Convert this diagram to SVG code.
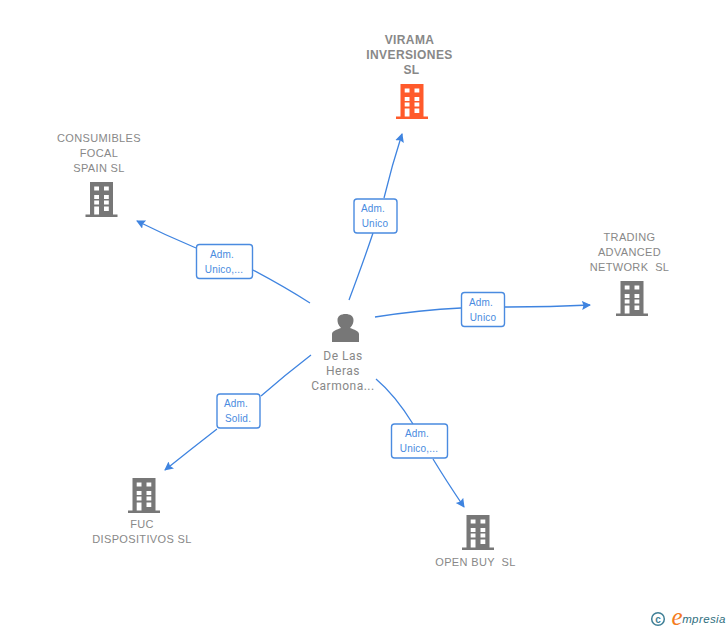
<svg xmlns="http://www.w3.org/2000/svg" width="728" height="630" viewBox="0 0 728 630">
<style>
text{font-family:"Liberation Sans",Arial,sans-serif;text-anchor:middle}
.n{font-size:11px;fill:#888;letter-spacing:.35px}
.b{font-weight:bold;font-size:12px;fill:#888;letter-spacing:.4px}
.p{font-family:Roboto,"Liberation Sans",sans-serif;font-size:12px;fill:#888;letter-spacing:.5px}
.l{font-size:10px;fill:#4a8be0;letter-spacing:.2px}
.c{fill:none;stroke:#3f84e0;stroke-width:1.3}
.box{fill:#fff;stroke:#4a8be0;stroke-width:1.4}
.g{fill:#777}.o{fill:#ff5a2b}
.w{fill:#fff}
</style>
<defs>
<marker id="a" markerUnits="userSpaceOnUse" markerWidth="12" markerHeight="12" refX="8" refY="4.500" orient="auto"><path d="M0 0L9 4.500L0 9L1.500 4.500Z" fill="#3f84e0"/></marker>
<g id="bld">
<path d="M4.500 0H27.500V32.500H32V35H0V32.500H4.500Z"/>
<path class="w" d="M8.700 4.500h4.800v4H8.700zM18.500 4.500h4.800v4h-4.800zM8.700 13h4.800v4H8.700zM18.500 13h4.800v4h-4.800zM8.700 18.500h4.800v4H8.700zM18.500 18.500h4.800v4h-4.800zM8.700 24.500h4.800v8H8.700zM18.500 24.500h4.800v4.500h-4.800z"/>
</g>
</defs>
<g id="connectors">
<path class="c" marker-end="url(#a)" d="M349 300Q364 260 373 233M384 198Q392 165 402 134"/>
<path class="c" marker-end="url(#a)" d="M310 303Q285 287 253 270M196 248Q165 235 137 221"/>
<path class="c" marker-end="url(#a)" d="M375 317Q420 310 461 308M505 307Q550 307 590 305"/>
<path class="c" marker-end="url(#a)" d="M311 355Q285 375 261 396M217 429Q190 450 165 470"/>
<path class="c" marker-end="url(#a)" d="M376 379Q395 395 413 424M433 459Q447 482 464 507"/>
</g>
<g id="edge-labels">
<g><rect class="box" x="354" y="199" width="43" height="34" rx="3"/><text class="l" x="373" y="212">Adm.</text><text class="l" x="375" y="227">Unico</text></g>
<g><rect class="box" x="196.500" y="244.500" width="56" height="34" rx="3"/><text class="l" x="222" y="258">Adm.</text><text class="l" x="224" y="273">Unico,...</text></g>
<g><rect class="box" x="461.500" y="292.500" width="43" height="34" rx="3"/><text class="l" x="481" y="306">Adm.</text><text class="l" x="483" y="321">Unico</text></g>
<g><rect class="box" x="217" y="394" width="43" height="34" rx="3"/><text class="l" x="236" y="407">Adm.</text><text class="l" x="238" y="422">Solid.</text></g>
<g><rect class="box" x="391.500" y="424" width="56" height="34" rx="3"/><text class="l" x="417" y="437">Adm.</text><text class="l" x="419" y="452">Unico,...</text></g>
</g>
<g id="virama"><use href="#bld" class="o" x="396" y="84"/><text class="b" x="409.500" y="44">VIRAMA</text><text class="b" x="409.500" y="59">INVERSIONES</text><text class="b" x="411.500" y="74">SL</text></g>
<g id="consumibles"><use href="#bld" class="g" x="85.500" y="182"/><text class="n" x="99" y="142">CONSUMIBLES</text><text class="n" x="99" y="157">FOCAL</text><text class="n" x="99" y="172">SPAIN SL</text></g>
<g id="trading"><use href="#bld" class="g" x="616" y="281"/><text class="n" x="629.500" y="241">TRADING</text><text class="n" x="629.500" y="256">ADVANCED</text><text class="n" x="629.500" y="271" xml:space="preserve">NETWORK  SL</text></g>
<g id="fuc"><use href="#bld" class="g" x="128" y="478"/><text class="n" x="142" y="528">FUC</text><text class="n" x="142" y="543">DISPOSITIVOS SL</text></g>
<g id="openbuy"><use href="#bld" class="g" x="462" y="515"/><text class="n" x="475.500" y="566" xml:space="preserve">OPEN BUY  SL</text></g>
<g id="person"><path class="g" d="M332 342V334C332 331 337 329.500 341 328C338 325 337.500 322 337.500 320C337.500 316 341 314 345.500 314C350 314 353.500 316 353.500 320C353.500 322 353 325 350 328C354 329.500 359 331 359 334V342Z"/><text class="p" x="343" y="360">De Las</text><text class="p" x="343" y="375">Heras</text><text class="p" x="343" y="390">Carmona...</text></g>
<g id="watermark"><circle cx="658" cy="619" r="6.300" fill="none" stroke="#3f7f96" stroke-width="1.500"/><text x="658" y="622.500" style="font-size:10px;font-weight:bold;fill:#3f7f96">c</text><text x="677" y="625" style="font-family:'Liberation Serif',serif;font-style:italic;font-size:25px;fill:#f47b20">e</text><text x="704" y="623" style="font-style:italic;font-size:11.500px;fill:#2f6f80;letter-spacing:.4px">mpresia</text></g>
</svg>
